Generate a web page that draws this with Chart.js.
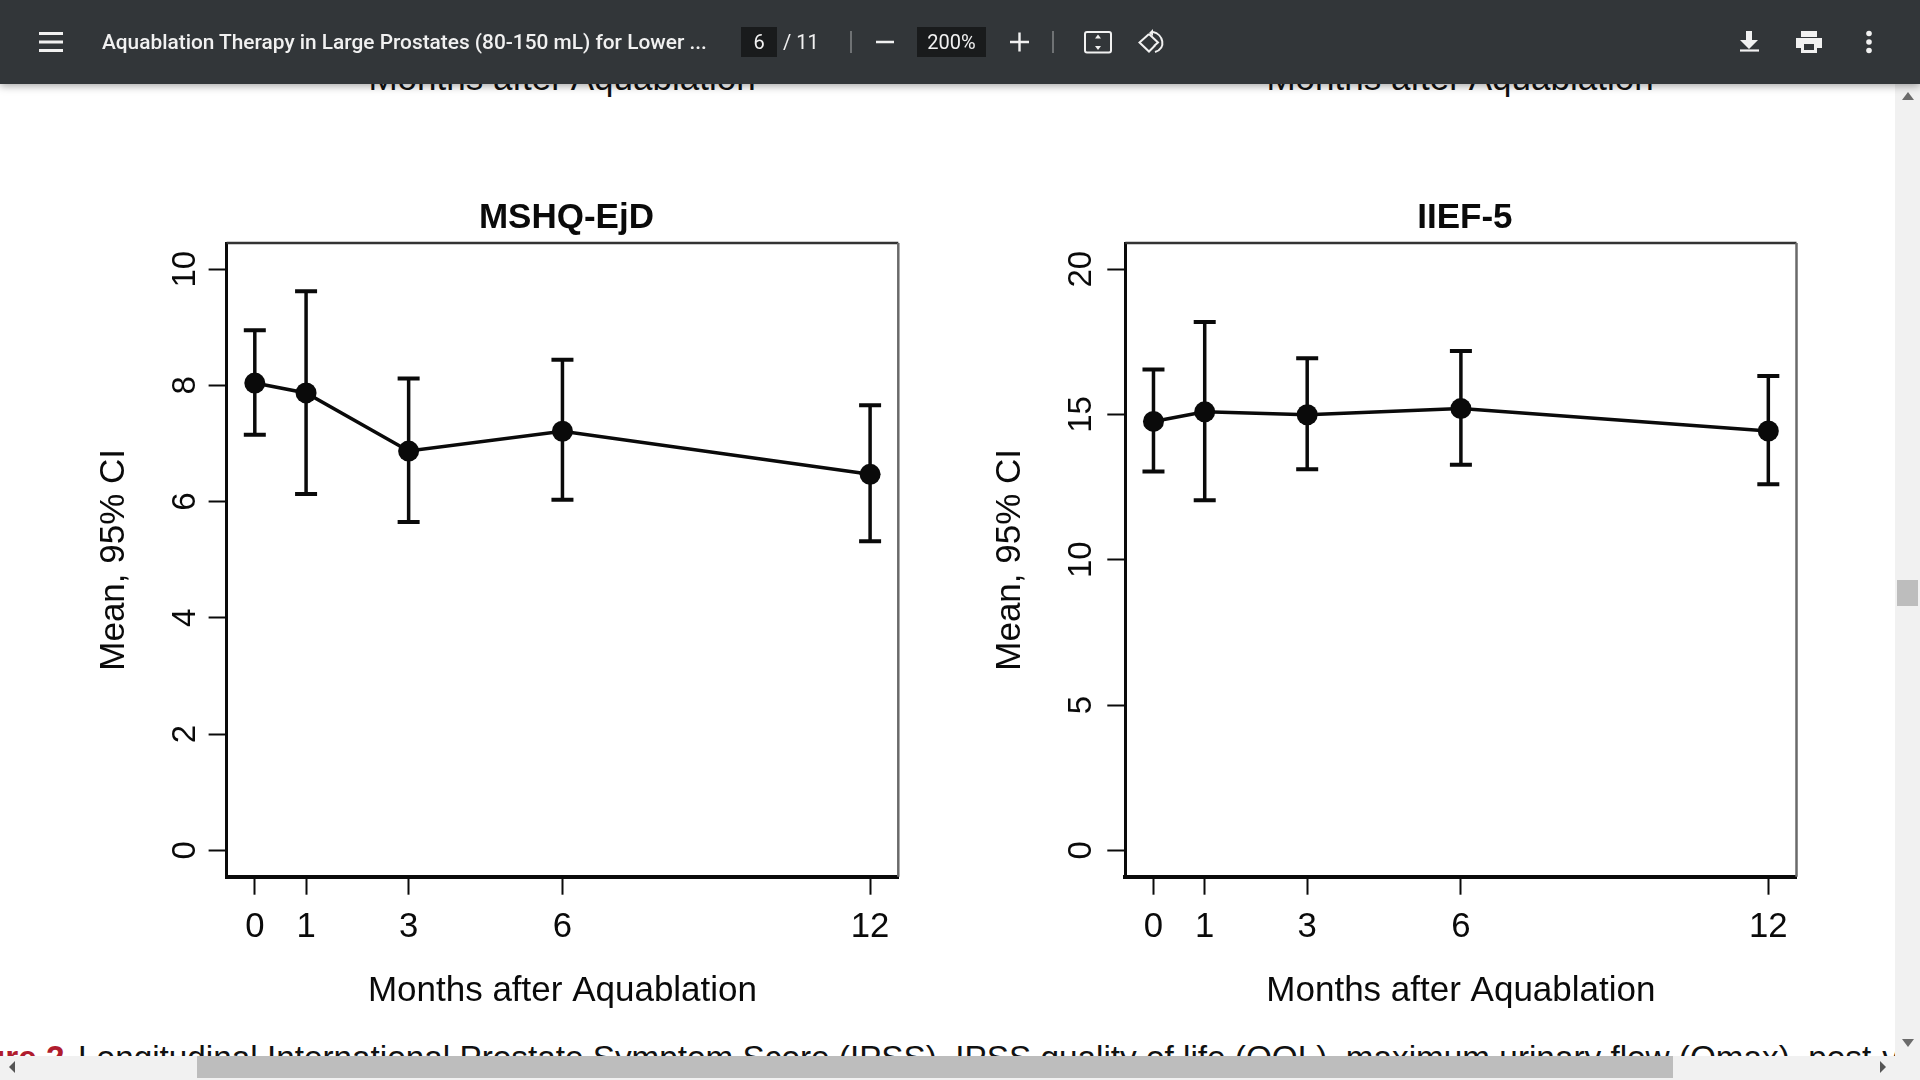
<!DOCTYPE html>
<html lang="en">
<head>
<meta charset="utf-8">
<title>Aquablation Therapy in Large Prostates</title>
<script src="https://cdn.jsdelivr.net/npm/chart.js@4"></script>
<style>
  html, body { margin: 0; height: 100%; overflow: hidden; background: #fff; }
  body { position: relative; width: 1920px; height: 1080px; font-family: "Liberation Sans", Arial, sans-serif; color: #111; }
  canvas { position: absolute; }

  /* ---- leftovers of the page around the figure ---- */
  .clipped-label { position: absolute; top: 58px; width: 500px; text-align: center; font-size: 35px; line-height: 40px; }
  .caption { position: absolute; left: -15px; top: 1037.5px; white-space: nowrap; font-size: 33.3px; line-height: 40px; }
  .caption b { color: #b01c2e; margin-right: -5px; }

  /* ---- PDF viewer chrome ---- */
  .toolbar { position: absolute; left: 0; top: 0; width: 1920px; height: 84px; background: #323639; box-shadow: 0 2px 8px rgba(0,0,0,.35); color: #f1f1f1; font-family: Roboto, sans-serif; }
  .toolbar span, .toolbar i { position: absolute; font-style: normal; }
  .doc-title { left: 102px; top: 29px; font-size: 20.85px; line-height: 26px; font-weight: 500; white-space: nowrap; }
  .box { top: 27px; height: 30px; background: #191b1c; text-align: center; font-size: 20px; line-height: 30px; }
  .pages { left: 783px; top: 29px; font-size: 20px; line-height: 26px; }
  .sep { top: 31px; width: 2px; height: 22px; background: #6f7274; }
  .toolbar svg { position: absolute; left: 0; top: 0; }

  .hbar { position: absolute; left: 0; top: 1056px; width: 1920px; height: 24px; background: #f1f1f1; }
  .hbar i { position: absolute; left: 197px; top: 0; width: 1476px; height: 22px; background: #bdbdbd; }
  .vbar { position: absolute; left: 1895px; top: 84px; width: 25px; height: 996px; background: #f1f1f1; }
  .vbar i { position: absolute; left: 2px; top: 496px; width: 21px; height: 26px; background: #bdbdbd; }
  .chrome-arrows { position: absolute; left: 0; top: 0; }
</style>
</head>
<body>

<div class="clipped-label" style="left:312px">Months after Aquablation</div>
<div class="clipped-label" style="left:1210px">Months after Aquablation</div>

<canvas id="mshqChart" width="822" height="860" style="left:90px;top:170px"></canvas>
<canvas id="iiefChart" width="824" height="860" style="left:986px;top:170px"></canvas>

<div class="caption"><b>ure 2.</b> Longitudinal International Prostate Symptom Score (IPSS), IPSS quality of life (QOL), maximum urinary flow (Qmax), post-void</div>

<div class="vbar"><i></i></div>
<div class="hbar"><i></i></div>
<svg class="chrome-arrows" width="1920" height="1080">
  <path d="M1902 100l6-8 6 8z M1902 1039l6 8 6-8z" fill="#6b6b6b"/>
  <path d="M9 1067l6-6v12z" fill="#555"/>
  <path d="M1880 1061l6 6-6 6z" fill="#555"/>
</svg>

<div class="toolbar">
  <svg width="1920" height="84" fill="none" stroke="#f1f1f1">
    <path d="M39 33.500h24M39 42h24M39 50.500h24" stroke-width="3"/>
    <path d="M876 42h18M1010 42h19M1019.500 32.500v19" stroke-width="2.400"/>
    <rect x="1085" y="32" width="26" height="20.500" rx="2" stroke-width="2"/>
    <path d="M1098 34.500l-3 4h6zM1098 50l-3-4h6z" fill="#f1f1f1" stroke="none"/>
    <path d="M1149 34l-9.500 8.500 9.500 9 6-6" stroke-width="2"/>
    <path d="M1149 34l9 8.500-4 3.500" stroke-width="2"/>
    <path d="M1153 32c10 2 14 16 2 20" stroke-width="2"/>
    <path d="M1153 29v7l-4-3z" fill="#f1f1f1" stroke="none"/>
    <path d="M1746 31h6v9h6l-9 9-9-9h6z" fill="#f1f1f1" stroke="none"/>
    <path d="M1740 50.500h19" stroke-width="2.200"/>
    <path d="M1801 31h16v6h-16zM1796 38h26a0 0 0 0 1 0 0v10h-5v5h-16v-5h-5z" fill="#f1f1f1" stroke="none"/>
    <path d="M1804 44h10v6h-10z" fill="#323639" stroke="none"/>
    <circle cx="1869" cy="33.500" r="2.800" fill="#f1f1f1" stroke="none"/>
    <circle cx="1869" cy="42" r="2.800" fill="#f1f1f1" stroke="none"/>
    <circle cx="1869" cy="50.500" r="2.800" fill="#f1f1f1" stroke="none"/>
  </svg>
  <span class="doc-title">Aquablation Therapy in Large Prostates (80-150 mL) for Lower ...</span>
  <span class="box" style="left:741px;width:36px">6</span>
  <span class="pages">/ 11</span>
  <i class="sep" style="left:850px"></i>
  <span class="box" style="left:917px;width:69px">200%</span>
  <i class="sep" style="left:1052px"></i>
</div>

<script>
// ---- Data ----
const months = [0, 1, 3, 6, 12];

const mshqMean  = [8.04, 7.87, 6.87, 7.21, 6.47];
const mshqUpper = [8.95, 9.62, 8.12, 8.44, 7.66];
const mshqLower = [7.15, 6.13, 5.65, 6.03, 5.32];
const mshqTicks = [0, 2, 4, 6, 8, 10];

const iiefMean  = [14.76, 15.09, 14.99, 15.20, 14.43];
const iiefUpper = [16.55, 18.18, 16.93, 17.18, 16.32];
const iiefLower = [13.04, 12.05, 13.11, 13.27, 12.60];
const iiefTicks = [0, 5, 10, 15, 20];

const INK = '#0a0a0a';
const FONT = "'Liberation Sans', Arial, sans-serif";

// mean, 95% CI whiskers with caps, placed through the chart's own scales
function errorBars(lower, upper) {
  return {
    id: 'errorBars',
    beforeDatasetsDraw(chart) {
      const { ctx, scales: { x, y } } = chart;
      ctx.save();
      ctx.strokeStyle = INK;
      months.forEach((m, i) => {
        const px = x.getPixelForValue(m);
        const lo = y.getPixelForValue(lower[i]);
        const hi = y.getPixelForValue(upper[i]);
        ctx.lineWidth = 3.5;
        ctx.beginPath();
        ctx.moveTo(px, lo);
        ctx.lineTo(px, hi);
        ctx.stroke();
        ctx.lineWidth = 4;
        ctx.beginPath();
        ctx.moveTo(px - 11, lo);
        ctx.lineTo(px + 11, lo);
        ctx.moveTo(px - 11, hi);
        ctx.lineTo(px + 11, hi);
        ctx.stroke();
      });
      ctx.restore();
    }
  };
}

// top and right edges of the R box, lighter than the axes
const frameEdges = {
  id: 'frameEdges',
  afterDraw(chart) {
    const { ctx, chartArea: a } = chart;
    ctx.save();
    ctx.lineWidth = 2.5;
    ctx.strokeStyle = '#333';
    ctx.beginPath();
    ctx.moveTo(a.left, a.top);
    ctx.lineTo(a.right, a.top);
    ctx.stroke();
    ctx.strokeStyle = '#6a6a6a';
    ctx.beginPath();
    ctx.moveTo(a.right, a.top);
    ctx.lineTo(a.right, a.bottom);
    ctx.stroke();
    ctx.restore();
  }
};

// the main title sits a little right of the plot's centre in the original
const titleNudge = {
  id: 'titleNudge',
  afterLayout(chart) {
    chart.titleBlock.left += 4;
    chart.titleBlock.right += 4;
  }
};

function makePanel(id, title, mean, lower, upper, yTicks, yRange, yAxisWidth, rightPad, yTickPad) {
  return new Chart(document.getElementById(id), {
    type: 'line',
    data: {
      datasets: [{
        data: months.map((m, i) => ({ x: m, y: mean[i] })),
        borderColor: INK,
        borderWidth: 3.5,
        tension: 0,
        pointRadius: 10.5,
        pointBackgroundColor: INK,
        pointBorderWidth: 0
      }]
    },
    plugins: [errorBars(lower, upper), frameEdges, titleNudge],
    options: {
      responsive: false,
      animation: false,
      layout: { padding: { right: rightPad } },
      plugins: {
        legend: { display: false },
        tooltip: { enabled: false },
        title: {
          display: true,
          fullSize: false,
          text: title,
          color: INK,
          font: { size: 35, weight: 'bold', family: FONT },
          padding: { top: 27.5, bottom: 3.5 }
        }
      },
      scales: {
        x: {
          type: 'linear',
          min: -0.55,
          max: 12.55,
          afterBuildTicks: s => { s.ticks = months.map(value => ({ value })); },
          afterFit: s => { s.height = 153.3; },
          grid: { drawOnChartArea: false, tickLength: 18, tickWidth: 2, tickColor: INK },
          border: { color: INK, width: 4 },
          ticks: {
            color: INK,
            padding: 11.5,
            autoSkip: false,
            maxRotation: 0,
            font: { size: 34.7, family: FONT }
          },
          title: {
            display: true,
            text: 'Months after Aquablation',
            color: INK,
            font: { size: 35, family: FONT },
            padding: { top: 0, bottom: 17.5 }
          }
        },
        y: {
          min: yRange[0],
          max: yRange[1],
          afterBuildTicks: s => { s.ticks = yTicks.map(value => ({ value })); },
          afterFit: s => { s.width = yAxisWidth; },
          grid: { drawOnChartArea: false, tickLength: 18, tickWidth: 2, tickColor: INK },
          border: { color: INK, width: 3 },
          ticks: {
            color: INK,
            padding: yTickPad,
            autoSkip: false,
            minRotation: 90,
            maxRotation: 90,
            crossAlign: 'center',
            font: { size: 33, family: FONT }
          },
          title: {
            display: true,
            text: 'Mean, 95% CI',
            color: INK,
            font: { size: 35, family: FONT },
            padding: { top: 3.5, bottom: 0 }
          }
        }
      }
    }
  });
}

makePanel('mshqChart', 'MSHQ-EjD', mshqMean, mshqLower, mshqUpper, mshqTicks, [-0.454, 10.45], 136.6, 13.7, 4.5);
makePanel('iiefChart', 'IIEF-5', iiefMean, iiefLower, iiefUpper, iiefTicks, [-0.909, 20.9], 139.3, 13.5, 7);
</script>
</body>
</html>
